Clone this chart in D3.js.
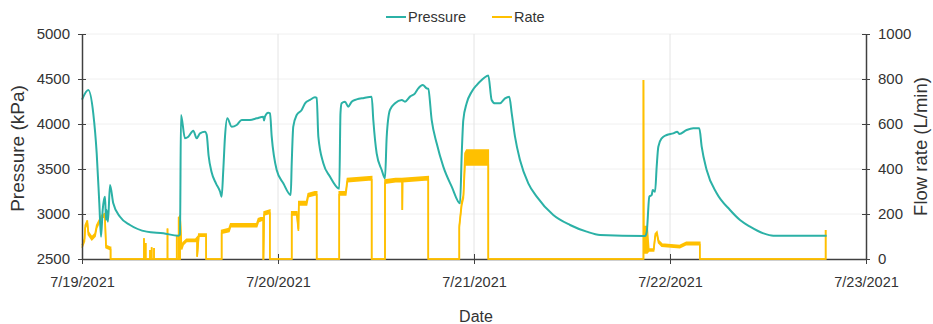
<!DOCTYPE html>
<html>
<head>
<meta charset="utf-8">
<script src="https://cdn.jsdelivr.net/npm/d3@7"></script>
<style>
  body { margin: 0; background: #fff; }
  text { font-family: "Liberation Sans", Arial, sans-serif; fill: #333; }
</style>
</head>
<body>
<div id="chart"></div>
<script>
// hours after 7/19/2021 00:00, pressure in kPa
var pressureHours = [0, 0.77, 1.38, 1.8, 2.12, 2.33, 2.53, 2.69, 2.82, 2.94, 3.02, 3.18, 3.43, 3.83, 4.65, 5.88, 7.92, 9.96, 11.79,
  12.0, 12.12, 12.61, 13.02, 13.63, 14.04, 14.45, 15.06, 15.27, 15.5, 15.88, 16.4, 16.9, 17.1,
  17.3, 17.51, 17.79, 18.33, 18.94, 19.56, 20.57, 21.39, 22.2, 22.29, 22.41, 22.81, 23.02, 23.23, 23.84, 24.65, 25.56,
  25.68, 25.87, 26.29, 26.9, 27.31, 27.92, 28.53, 28.74, 28.94, 29.55, 30.37, 31.38, 31.5,
  31.65, 31.79, 32.2, 32.6, 33.02, 33.63, 34.53, 35.47, 35.67, 36.08, 36.7, 37.1,
  37.31, 37.71, 38.33, 39.15, 39.55, 40.16, 40.78, 41.18, 41.72, 42.21, 42.4, 42.82, 43.43, 44.24, 45.27, 46.29,
  46.5, 46.69, 47.1, 47.72, 48.33, 48.94, 49.55, 49.75, 50.16, 50.57, 51.18, 51.8, 52.32, 52.62, 53.02, 53.63, 54.65, 55.68, 57.71, 59.76, 61.8, 63.43,
  68.94, 69.15, 69.47, 69.76, 69.88, 70.17, 70.37, 70.57, 70.98, 71.6, 72.4, 72.89, 73.14, 74.04, 74.85, 75.59,
  75.88, 76.49, 77.72, 79.35, 80.57, 81.8, 83.43, 84.65, 91.18];
var pressureValues = [4270, 4378, 4119, 3674, 3119, 2748, 3044, 3156, 3192, 2933, 3044, 2915, 3322, 3119, 2970, 2878, 2804, 2785, 2759,
  2770, 4100, 3841, 3859, 3926, 3841, 3896, 3914, 3880, 3650, 3460, 3340, 3250, 3193,
  3489, 3859, 4063, 3970, 3989, 4044, 4044, 4063, 4081, 4040, 4085, 4126, 4119, 3859, 3489, 3341, 3211,
  3563, 3970, 4100, 4156, 4230, 4267, 4296, 4290, 3859, 3563, 3415, 3285, 3280,
  4119, 4230, 4248, 4193, 4248, 4274, 4290, 4304, 4044, 3674, 3489, 3396,
  3859, 4156, 4230, 4267, 4248, 4304, 4341, 4396, 4433, 4396, 4390, 4044, 3785, 3526, 3304, 3119,
  3674, 4044, 4230, 4359, 4433, 4489, 4533, 4540, 4267, 4230, 4230, 4285, 4304, 4119, 3859, 3600, 3341, 3193, 2989, 2878, 2804, 2767,
  2755, 2800, 3193, 3211, 3267, 3248, 3526, 3748, 3841, 3878, 3896, 3915, 3889, 3933, 3952, 3952,
  3748, 3489, 3230, 3044, 2933, 2859, 2785, 2759, 2759];

// flow rate in L/min, low and high edge of the noisy band
var rateHours = [0, 0.3, 0.4, 0.65, 0.78, 1.2, 1.6, 1.8, 2.1, 2.4, 2.8, 2.94, 3.43, 3.5, 3.5,
  7.59, 7.59, 7.59, 7.8, 7.8, 7.8, 8.33, 8.33, 8.33, 8.53, 8.53, 8.53, 8.82, 8.82, 8.82,
  10.47, 10.47, 10.47, 11.6, 11.6, 11.6, 11.84, 11.84, 11.84,
  12.0, 12.0, 12.2, 12.4, 12.8, 13.9, 14.1, 14.1, 14.3, 15.2, 15.2,
  17.1, 17.1, 18.0, 18.2, 21.4, 21.6, 22.2, 22.2, 22.22, 22.3, 23.0, 23.0,
  25.68, 25.68, 26.3, 26.5, 26.55, 27.5, 27.7, 28.5, 28.74, 28.74,
  31.5, 31.5, 32.3, 32.5, 35.47, 35.47,
  37.1, 37.1, 38.4, 39.2, 39.22, 39.25, 42.4, 42.4,
  46.2, 46.2, 46.5, 46.7, 46.9, 47.1, 49.75, 49.75,
  68.75, 68.75, 68.78, 69.0, 69.2, 69.4, 70.0, 70.2, 70.4, 70.6, 71.0, 73.2, 74.0, 75.65, 75.65,
  91.06, 91.06];
var rateLow = [50, 78, 138, 160, 108, 86, 101, 138, 160, 182, 190, 50, 42, 42, 0,
  0, 92, 0, 0, 71, 0, 0, 40, 0, 0, 52, 0, 0, 49, 0,
  0, 136, 0, 0, 107, 0, 0, 188, 0,
  0, 190, 42, 64, 78, 78, 86, 10, 101, 101, 0,
  0, 115, 122, 144, 144, 166, 174, 0, 0, 196, 203, 0,
  0, 196, 196, 125, 240, 240, 277, 285, 285, 0,
  0, 285, 285, 344, 352, 0,
  0, 337, 344, 344, 218, 344, 352, 0,
  0, 140, 240, 270, 418, 418, 418, 0,
  0, 796, 27, 27, 27, 36, 36, 102, 108, 72, 57, 50, 64, 64, 0,
  0, 129];
var rateHigh = [60, 90, 150, 172, 120, 98, 113, 150, 172, 194, 202, 60, 52, 52, 0,
  0, 92, 0, 0, 71, 0, 0, 40, 0, 0, 52, 0, 0, 49, 0,
  0, 136, 0, 0, 107, 0, 0, 188, 0,
  0, 196, 52, 74, 88, 88, 96, 10, 111, 111, 0,
  0, 127, 135, 157, 157, 179, 187, 0, 0, 210, 217, 0,
  0, 210, 210, 133, 255, 255, 291, 299, 299, 0,
  0, 299, 299, 358, 366, 0,
  0, 351, 358, 358, 218, 358, 366, 0,
  0, 150, 255, 284, 470, 484, 484, 0,
  0, 796, 144, 144, 144, 44, 44, 112, 120, 82, 67, 60, 74, 74, 0,
  0, 129];

var dayTicks = ["7/19/2021", "7/20/2021", "7/21/2021", "7/22/2021", "7/23/2021"];
var pressureTicks = [2500, 3000, 3500, 4000, 4500, 5000];
var rateTicks = [0, 200, 400, 600, 800, 1000];

var svgWidth = 933;
var svgHeight = 324;
var margin = { top: 34, right: 67, bottom: 65, left: 82 };
var width = svgWidth - margin.left - margin.right;
var height = svgHeight - margin.top - margin.bottom;

var teal = "#2bb1a6";
var gold = "#ffc000";

var parseDay = d3.timeParse("%m/%d/%Y");
var start = parseDay(dayTicks[0]);
function toDate(h) { return new Date(start.getTime() + h * 3600e3); }

var pressureData = pressureHours.map((h, i) => ({ t: toDate(h), v: pressureValues[i] }));
var rateData = rateHours.map((h, i) => ({ t: toDate(h), lo: rateLow[i], hi: rateHigh[i] }));

var svg = d3.select("#chart")
  .append("svg")
  .attr("width", svgWidth)
  .attr("height", svgHeight);

var chartGroup = svg.append("g")
  .attr("transform", `translate(${margin.left}, ${margin.top})`);

var xTimeScale = d3.scaleTime()
  .domain([parseDay(dayTicks[0]), parseDay(dayTicks[dayTicks.length - 1])])
  .range([0, width]);
var yPressure = d3.scaleLinear().domain([2500, 5000]).range([height, 0]);
var yRate = d3.scaleLinear().domain([0, 1000]).range([height, 0]);

// gridlines
chartGroup.append("g")
  .selectAll("line")
  .data(pressureTicks.slice(1))
  .enter()
  .append("line")
  .attr("x1", 0).attr("x2", width)
  .attr("y1", d => yPressure(d)).attr("y2", d => yPressure(d))
  .attr("stroke", "#f0f0f0");

chartGroup.append("g")
  .selectAll("line")
  .data(dayTicks.slice(1, -1).map(parseDay))
  .enter()
  .append("line")
  .attr("x1", d => xTimeScale(d)).attr("x2", d => xTimeScale(d))
  .attr("y1", 0).attr("y2", height)
  .attr("stroke", "#e4e4e4");

// bottom axis sits under the rate line
var bottomAxis = d3.axisBottom(xTimeScale)
  .tickValues(dayTicks.map(parseDay))
  .tickFormat(d3.timeFormat("%-m/%-d/%Y"))
  .tickSizeOuter(0);

var xAxisG = chartGroup.append("g")
  .attr("transform", `translate(0, ${height})`)
  .call(bottomAxis);
xAxisG.select(".domain").attr("stroke", "#404040").attr("stroke-width", 1.5);
xAxisG.selectAll(".tick line").attr("y1", -5).attr("y2", 5).attr("stroke", "#404040");
xAxisG.selectAll(".tick text")
  .attr("y", 28).attr("dy", null)
  .style("font-size", "14.5px")
  .attr("fill", "#333");

// rate
var rateArea = d3.area()
  .x(d => xTimeScale(d.t))
  .y0(d => yRate(d.lo))
  .y1(d => yRate(d.hi));

chartGroup.append("path")
  .datum(rateData)
  .attr("d", rateArea)
  .attr("fill", gold);

["lo", "hi"].forEach(function(k) {
  chartGroup.append("path")
    .datum(rateData)
    .attr("d", d3.line().x(d => xTimeScale(d.t)).y(d => yRate(d[k])))
    .attr("fill", "none")
    .attr("stroke", gold)
    .attr("stroke-width", 1.6);
});

// pressure
chartGroup.append("path")
  .datum(pressureData)
  .attr("d", d3.line().curve(d3.curveMonotoneX).x(d => xTimeScale(d.t)).y(d => yPressure(d.v)))
  .attr("fill", "none")
  .attr("stroke", teal)
  .attr("stroke-width", 2)
  .attr("stroke-linejoin", "round");

// y axes
var leftAxis = d3.axisLeft(yPressure).tickValues(pressureTicks).tickFormat(d3.format("d")).tickSizeOuter(0);
var leftG = chartGroup.append("g").call(leftAxis);
leftG.select(".domain").attr("stroke", "#404040").attr("stroke-width", 1.5);
leftG.selectAll(".tick line").attr("x1", -4).attr("x2", 4).attr("stroke", "#404040");
leftG.selectAll(".tick text").attr("x", -12).style("font-size", "15px").attr("fill", "#333");

var rightAxis = d3.axisRight(yRate).tickValues(rateTicks).tickFormat(d3.format("d")).tickSizeOuter(0);
var rightG = chartGroup.append("g")
  .attr("transform", `translate(${width}, 0)`)
  .call(rightAxis);
rightG.select(".domain").attr("stroke", "#404040").attr("stroke-width", 1.5);
rightG.selectAll(".tick line").attr("x1", -4).attr("x2", 4).attr("stroke", "#404040");
rightG.selectAll(".tick text").attr("x", 12).style("font-size", "15px").attr("fill", "#333");

// titles
svg.append("text")
  .attr("transform", `translate(24, ${margin.top + height / 2 + 2}) rotate(-90)`)
  .attr("text-anchor", "middle")
  .style("font-size", "19px")
  .text("Pressure (kPa)");

svg.append("text")
  .attr("transform", `translate(927, ${margin.top + height / 2}) rotate(-90)`)
  .attr("text-anchor", "middle")
  .style("font-size", "18.5px")
  .text("Flow rate (L/min)");

svg.append("text")
  .attr("x", 476).attr("y", 322)
  .attr("text-anchor", "middle")
  .style("font-size", "16px")
  .text("Date");

// legend
var legend = [{ name: "Pressure", color: teal, x: 386 }, { name: "Rate", color: gold, x: 492 }];
var lg = svg.append("g").selectAll("g").data(legend).enter().append("g");
lg.append("line")
  .attr("x1", d => d.x).attr("x2", d => d.x + 20)
  .attr("y1", 17).attr("y2", 17)
  .attr("stroke", d => d.color).attr("stroke-width", 2);
lg.append("text")
  .attr("x", d => d.x + 22).attr("y", 22)
  .style("font-size", "14.5px")
  .text(d => d.name);
</script>
</body>
</html>
